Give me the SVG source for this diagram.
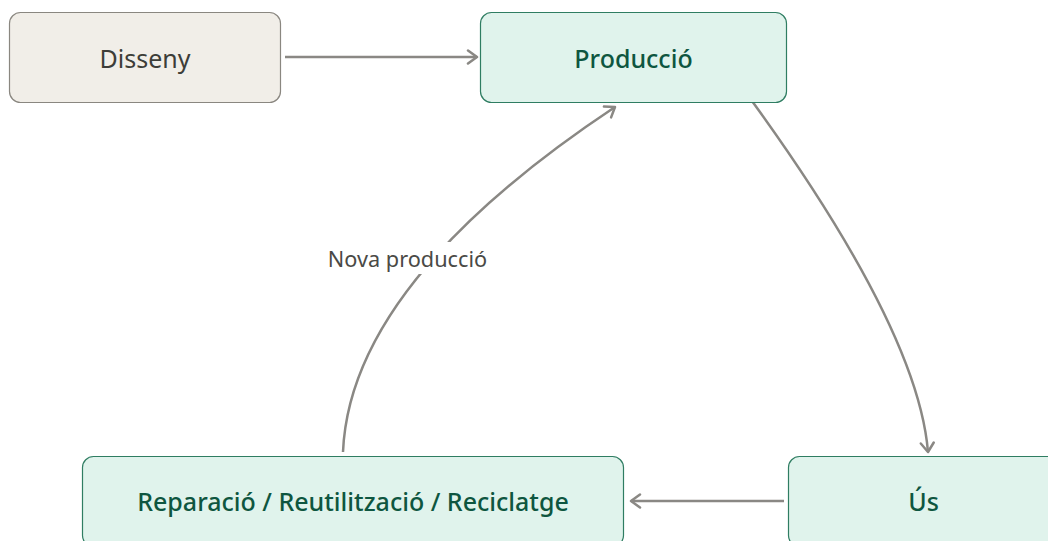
<svg xmlns="http://www.w3.org/2000/svg" width="1048" height="541" viewBox="0 0 1048 541">
<style>
.box{stroke-width:1.2}
.neutral{fill:#f1eee8;stroke:#8a8780}
.green{fill:#e0f3ec;stroke:#2f7d62}
.t{font-family:"Noto Sans","Open Sans",sans-serif;font-size:25px;text-anchor:middle;dominant-baseline:central}
.tn{fill:#3d3d38;font-weight:400}
.tg{fill:#0e5640;font-weight:500}
.edge{fill:none;stroke:#8a8884;stroke-width:2.5}
.lbl{font-family:"Noto Sans","Open Sans",sans-serif;font-size:21.7px;fill:#4a4a46;text-anchor:middle;dominant-baseline:central}
</style>
<defs>
<marker id="arr" markerUnits="userSpaceOnUse" markerWidth="16" markerHeight="16" refX="12" refY="8" orient="auto">
<path d="M3,1.5 L12,8 L3,14.5" fill="none" stroke="#8a8884" stroke-width="2.5" stroke-linecap="round" stroke-linejoin="round"/>
</marker>
</defs>
<g id="connectors">
<path class="edge" d="M285,57 L477,57" marker-end="url(#arr)"/>
<path class="edge" d="M752,101 Q918,330 928,452" marker-end="url(#arr)"/>
<path class="edge" d="M784,501 L631,501" marker-end="url(#arr)"/>
<path class="edge" d="M343,452 Q350,283 615,107" marker-end="url(#arr)"/>
<rect x="324" y="242" width="168" height="32" fill="#ffffff"/>
<text class="lbl" x="407.5" y="258">Nova producció</text>
</g>
<g id="disseny">
<rect class="box neutral" x="9.5" y="12.5" width="271" height="90" rx="11"/>
<text class="t tn" x="145" y="58">Disseny</text>
</g>
<g id="produccio">
<rect class="box green" x="480.5" y="12.5" width="306" height="90" rx="11"/>
<text class="t tg" x="633.5" y="58">Producció</text>
</g>
<g id="us">
<rect class="box green" x="788.5" y="456.5" width="270" height="90" rx="11"/>
<text class="t tg" x="923.5" y="501">Ús</text>
</g>
<g id="reparacio">
<rect class="box green" x="82.5" y="456.5" width="541" height="90" rx="11"/>
<text class="t tg" x="353" y="501">Reparació / Reutilització / Reciclatge</text>
</g>
</svg>
